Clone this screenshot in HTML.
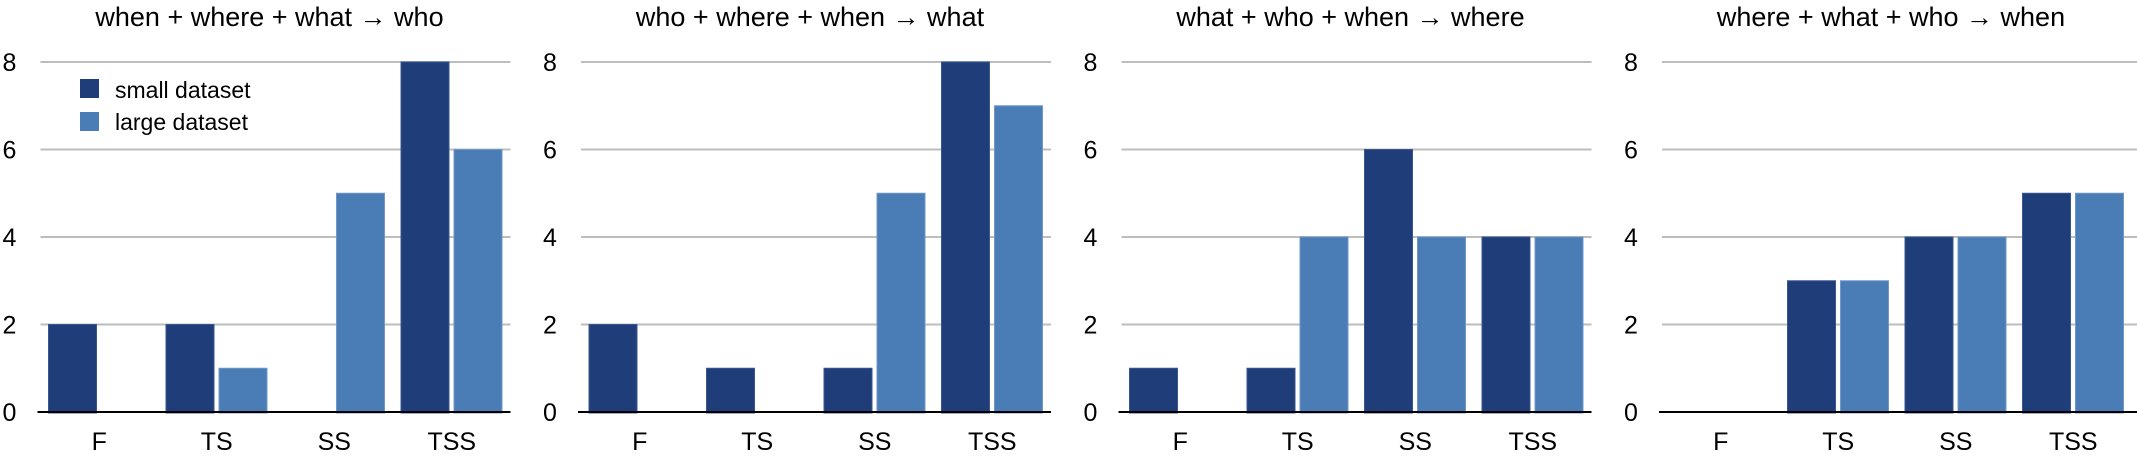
<!DOCTYPE html>
<html><head><meta charset="utf-8"><style>
html,body{margin:0;padding:0;background:#fff;}
svg{display:block;font-family:"Liberation Sans",Arial,sans-serif;}
</style></head><body>
<svg id="chart" width="2137" height="456" viewBox="0 0 2137 456"></svg>
<script>
const categories = ["F","TS","SS","TSS"];
const titles = ["when + where + what \u2192 who","who + where + when \u2192 what","what + who + when \u2192 where","where + what + who \u2192 when"];
const smallValues = [[2,2,0,8],[2,1,1,8],[1,1,6,4],[0,3,4,5]];
const largeValues = [[0,1,5,6],[0,0,5,7],[0,4,4,4],[0,3,4,5]];
const yTicks = [0,2,4,6,8];
const seriesNames = ["small dataset","large dataset"];

const NS="http://www.w3.org/2000/svg";
const svg=document.getElementById('chart');
const colors=["#1f3d78","#4a7db5"];
const y0=412, yTop=62, yMax=8;
function yScale(v){return y0-(y0-yTop)*v/yMax;}
function mk(tag,attrs,parent){const e=document.createElementNS(NS,tag);for(const k in attrs)e.setAttribute(k,attrs[k]);(parent||svg).appendChild(e);return e;}

titles.forEach((t,p)=>{
  const lx=9.5+540.5*p;
  const px=lx+31, pw=470;
  const g=mk('g',{});
  
  
  function xScale(ci){return px+pw/4*ci;}
  const tt=mk('text',{x:px+pw/2-6,y:26,'font-size':27,'text-anchor':'middle',fill:'#000'},g);
  tt.textContent=t;
  
  
  yTicks.forEach(v=>{
    const yy=yScale(v);
    if(v>0){
      const gl=mk('line',{x1:px,x2:(p==3?2137:px+pw),y1:yy,y2:yy,stroke:'#bdbdbd','stroke-width':2},g);
      
      
    }
    const lb=mk('text',{x:lx,y:yy+9,'font-size':25,'text-anchor':'middle',fill:'#000'},g);
    lb.textContent=v;
    
    
  });
  categories.forEach((c,ci)=>{
    const cx=xScale(ci);
    [smallValues[p][ci],largeValues[p][ci]].forEach((v,s)=>{
      if(v<=0)return;
      const bx=cx+8+s*53;
      const r=mk('rect',{x:bx,y:yScale(v),width:48,height:y0-yScale(v)+1,fill:colors[s],stroke:s?'#6f98c8':'#3a5690','stroke-width':1},g);
      
      
    });
    const xl=mk('text',{x:cx+pw/8,y:450,'font-size':25,'text-anchor':'middle',fill:'#000'},g);
    xl.textContent=c;
    
    
  });
  const ax=mk('line',{x1:px-3,x2:(p==3?2137:px+pw),y1:y0,y2:y0,stroke:'#000','stroke-width':2},g);
  
  
});

seriesNames.forEach((n,i)=>{
  const g=mk('g',{});
  
  
  mk('rect',{x:80,y:79+i*33,width:19,height:19,fill:colors[i]},g);
  const t=mk('text',{x:115,y:98+i*32,'font-size':23,fill:'#000'},g);
  t.textContent=n;
});
</script>
</body></html>
